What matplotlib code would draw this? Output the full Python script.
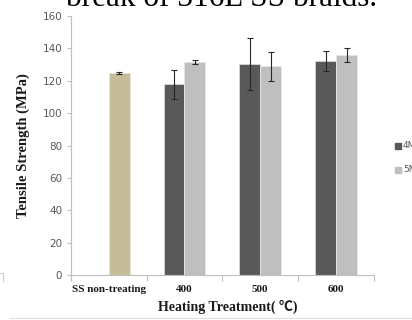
import matplotlib
matplotlib.use("Agg")
import matplotlib.pyplot as plt
from matplotlib.patches import Rectangle
from matplotlib.lines import Line2D

# data
categories = ["SS non-treating", "400", "500", "600"]
ss_value = 124.7
ss_err = 0.8
m4_values = [117.8, 130.2, 132.0]
m4_err = [9.0, 16.0, 6.2]
m5_values = [131.6, 128.9, 135.8]
m5_err = [1.5, 8.8, 4.3]
series_names = ["4M", "5M"]

c_dark = "#595959"
c_light = "#bfbfbf"
c_tan = "#c4bd97"
tick_grey = "#595959"
serif = ["Liberation Serif", "Noto Sans CJK SC", "DejaVu Sans"]

fig = plt.figure(figsize=(4.12, 3.2), dpi=100)
ax = fig.add_axes([0.1716, 0.1406, 0.7362, 0.8094])

w = 0.276
err_kw = dict(ecolor="#262626", elinewidth=0.8, capsize=2, capthick=0.8)

ax.bar(0 + w / 2, ss_value, w, yerr=ss_err, color=c_tan, edgecolor="#e8e4d6",
       linewidth=0.6, error_kw=err_kw)
xs = [1, 2, 3]
ax.bar([x - w / 2 for x in xs], m4_values, w, yerr=m4_err, color=c_dark,
       edgecolor="#d9d9d9", linewidth=0.6, error_kw=err_kw)
ax.bar([x + w / 2 for x in xs], m5_values, w, yerr=m5_err, color=c_light,
       edgecolor="#e6e6e6", linewidth=0.6, error_kw=err_kw)

ax.set_xlim(-0.5, 3.5)
ax.set_ylim(0, 160)
ax.set_yticks(range(0, 161, 20))
for s in ["top", "right"]:
    ax.spines[s].set_visible(False)
ax.spines["left"].set_color("#bfbfbf")
ax.spines["bottom"].set_color("#bfbfbf")
ax.spines["left"].set_linewidth(0.8)
ax.spines["bottom"].set_linewidth(0.8)

ax.tick_params(axis="y", colors="#bfbfbf", labelcolor=tick_grey, labelsize=7.5,
               length=3, width=0.8, pad=3)

# category boundaries get the tick marks, centres get the labels
ax.set_xticks([-0.5, 0.5, 1.5, 2.5, 3.5])
ax.set_xticklabels([])
ax.tick_params(axis="x", which="major", colors="#bfbfbf", length=4, width=0.8)
ax.set_xticks([0, 1, 2, 3], minor=True)
ax.set_xticklabels(categories, minor=True, family=serif,
                   fontweight="bold", fontsize=8)
ax.tick_params(axis="x", which="minor", length=0, pad=7, labelcolor="#1a1a1a")

ax.set_ylabel("Tensile Strength (MPa)", family=serif,
              fontweight="bold", fontsize=10.5, labelpad=9, color="#1a1a1a")
fig.text(0.553, 0.03, "Heating Treatment( \u2103)", family=serif,
         fontweight="bold", fontsize=10, ha="center", va="baseline",
         color="#1a1a1a")

# cut-off title from the page above
fig.text(0.538, 1 - 6 / 320, "break of 316L SS braids.", family=serif,
         fontsize=22.5, ha="center", va="baseline", color="black")

# legend, clipped by the right edge of the image
for i, (name, col) in enumerate(zip(series_names, [c_dark, c_light])):
    yy = 1 - (146 + i * 24) / 320
    fig.patches.append(Rectangle((395 / 412, yy - 3 / 320), 6 / 412, 6 / 320,
                                 transform=fig.transFigure, color=col))
    fig.text(403 / 412, yy, name, fontsize=6.5, color=tick_grey, va="center",
             ha="left")

# bits of the page frame
fig.lines.append(Line2D([10 / 412, 1], [1 - 318 / 320] * 2,
                        transform=fig.transFigure, color="#e0e0e0", lw=0.8))
fig.lines.append(Line2D([0, 3 / 412, 3 / 412], [1 - 273 / 320] * 2 + [1 - 281 / 320],
                        transform=fig.transFigure, color="#cccccc", lw=0.8))

fig.savefig("out.png", dpi=100)
